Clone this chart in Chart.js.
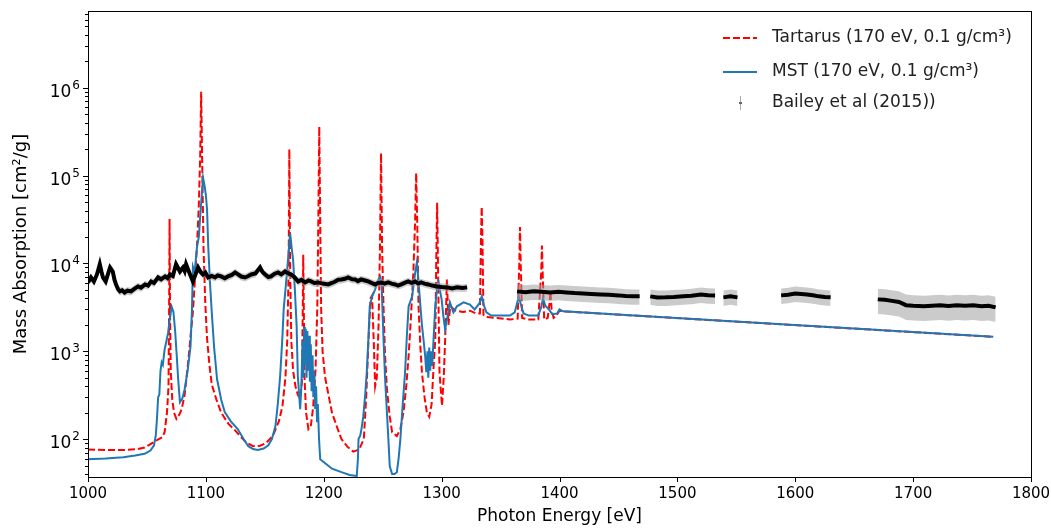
<!DOCTYPE html>
<html>
<head>
<meta charset="utf-8">
<script src="https://cdn.jsdelivr.net/npm/chart.js@4.4.1/dist/chart.umd.min.js"></script>
<style>
  html, body { margin: 0; padding: 0; background: #fff; }
</style>
</head>
<body>
<canvas id="absChart" width="1051" height="529"></canvas>
<script>
// Tartarus (170 eV, 0.1 g/cm3) - red dashed
const tartE = [1000, 1015, 1030, 1042, 1048, 1052, 1056, 1060, 1063, 1065, 1067, 1068.3, 1068.8, 1069.2, 1069.6, 1070.2, 1071.5, 1073, 1075, 1077.5,
  1079.5, 1082, 1085, 1087, 1089, 1091, 1092.5, 1094, 1095.2, 1096, 1096.8, 1098, 1099.5, 1101, 1103, 1105, 1109, 1113, 1119, 1125,
  1130, 1134, 1140, 1146, 1151, 1157, 1162, 1165, 1167.5, 1169, 1170.2, 1170.8, 1171.5, 1172.5, 1174, 1176, 1178, 1180, 1181.5, 1182.2,
  1182.6, 1183.1, 1183.7, 1185, 1187, 1189, 1191, 1193, 1194.5, 1195.5, 1196.2, 1197, 1197.8, 1199, 1201, 1204, 1207, 1211, 1215, 1220,
  1225, 1230, 1234, 1236, 1238, 1239.7, 1241, 1242.5, 1243.6, 1245, 1246.5, 1247.7, 1248.6, 1249.5, 1250.7, 1252, 1253.6, 1256, 1258, 1262,
  1265, 1267.6, 1270, 1272, 1274, 1276, 1277.5, 1278.4, 1279.3, 1280.4, 1282, 1283.3, 1285.5, 1287.5, 1289.5, 1291.5, 1293, 1294.6, 1295.5, 1296.2,
  1297, 1298.2, 1300.3, 1301.8, 1303, 1304.5, 1305.8, 1307.3, 1312, 1318, 1324, 1329, 1332.5, 1333.4, 1334, 1334.6, 1335.5, 1338, 1347, 1358,
  1364.5, 1365.9, 1366.5, 1367.1, 1368.3, 1374, 1382, 1384.5, 1385.1, 1385.7, 1387, 1390, 1391.5, 1392.3, 1393.3, 1395, 1397, 1400, 1403, 1585, 1768];
const tartV = [76, 75, 75, 77, 80, 86, 93, 100, 105, 120, 200, 400, 3000, 32000, 3000, 600, 280, 200, 170, 190,
  220, 320, 750, 1500, 2800, 7500, 16000, 45000, 170000, 900000, 160000, 15000, 3500, 1400, 700, 420, 280, 200, 150, 125,
  105, 92, 83, 84, 90, 110, 160, 240, 500, 1300, 8000, 200000, 8000, 1300, 600, 400, 320, 290, 450, 3000,
  12600, 3000, 500, 200, 130, 140, 230, 600, 3000, 40000, 360000, 30000, 3000, 1000, 520, 320, 200, 140, 100, 82,
  72, 76, 100, 300, 1370, 4000, 4300, 1200, 400, 500, 2000, 15000, 180000, 15000, 3250, 900, 370, 180, 120, 108,
  130, 200, 400, 885, 2500, 7800, 30000, 107000, 30000, 3250, 1100, 577, 300, 200, 180, 250, 600, 1370, 12000, 49000,
  8000, 577, 240, 500, 1370, 6580, 2000, 3250, 2900, 2800, 2900, 2700, 2700, 20000, 44000, 20000, 2600, 2450, 2400, 2300,
  2350, 10000, 26000, 10000, 2400, 2300, 2300, 8000, 16000, 8000, 2300, 2400, 3500, 4800, 3000, 2400, 2500, 2900, 2850, 2040, 1460];

// MST (170 eV, 0.1 g/cm3) - blue solid
const mstE = [1000, 1015, 1030, 1040, 1048, 1053, 1056, 1057.5, 1058.5, 1059.5, 1060.5, 1061.5, 1062.5, 1063.5, 1065, 1066.5, 1068, 1069.5, 1071, 1072.5,
  1074, 1075.5, 1076.5, 1078, 1080, 1082, 1084.5, 1087, 1088.2, 1089, 1090.5, 1092.5, 1094, 1095, 1096.5, 1097.6, 1099, 1100, 1101, 1102,
  1103.5, 1105, 1107, 1109.5, 1113, 1116, 1121, 1127, 1132, 1136, 1140, 1144, 1149, 1153, 1156, 1159, 1161, 1163, 1165, 1166,
  1167.5, 1169, 1170.5, 1171.5, 1172.8, 1174, 1175.5, 1177, 1178, 1180, 1181, 1182, 1182.7, 1183.4, 1184, 1184.7, 1185.4, 1186.1, 1186.8, 1187.5,
  1188.2, 1189, 1189.7, 1190.5, 1191.2, 1192, 1192.7, 1193.5, 1194.3, 1195, 1196, 1197, 1202, 1207, 1215, 1222, 1228, 1229, 1229.5, 1231,
  1232, 1233.5, 1235, 1236.5, 1238, 1239, 1241, 1243.6, 1246.4, 1248, 1249, 1250.7, 1252, 1253.6, 1255, 1256, 1258, 1260, 1262, 1263.5,
  1265, 1267, 1269, 1270.5, 1272, 1275, 1277.6, 1279, 1280.5, 1282, 1283.3, 1284.6, 1286, 1287, 1288, 1288.7, 1289.5, 1290.3, 1291, 1292,
  1293.3, 1294.6, 1296, 1297.4, 1298.5, 1300, 1301.5, 1303, 1305, 1307, 1310, 1313, 1318.6, 1324, 1328, 1332, 1334, 1336, 1338, 1342,
  1350, 1358, 1362, 1365.5, 1367.5, 1369.5, 1374, 1382, 1384.5, 1386, 1388, 1391, 1394, 1398, 1400, 1403, 1585, 1768];
const mstV = [59, 60, 62, 65, 68, 74, 85, 110, 170, 300, 320, 600, 750, 700, 1050, 1300, 1640, 2400, 3200, 2800,
  1640, 800, 480, 263, 290, 370, 600, 1140, 3000, 9200, 8000, 15600, 20000, 31600, 60000, 95000, 75000, 60000, 41000, 15600,
  6000, 2770, 1100, 480, 280, 203, 160, 130, 100, 83, 77, 75, 78, 85, 100, 140, 250, 520, 1500, 3000,
  5000, 8500, 15000, 22000, 15000, 11000, 5000, 1920, 520, 219, 400, 1300, 500, 1900, 700, 1800, 500, 1700, 600, 1500,
  450, 1200, 350, 900, 300, 600, 220, 400, 160, 250, 100, 59, 52, 46, 42, 39, 38, 60, 100, 110,
  130, 180, 300, 577, 1500, 3250, 4200, 5070, 6580, 7000, 6080, 1370, 500, 203, 90, 49, 40, 40, 42, 60,
  100, 250, 577, 1500, 3250, 4220, 7900, 10300, 6000, 3250, 2000, 1370, 900, 577, 1000, 500, 1100, 600, 1000, 680,
  1500, 3250, 5000, 6080, 5000, 3900, 2500, 1770, 2500, 3610, 2770, 3250, 3610, 3400, 3000, 3500, 4200, 3300, 2770, 2550,
  2550, 2550, 2770, 4200, 3300, 2700, 2550, 2550, 3200, 4000, 3300, 3000, 2630, 2700, 3000, 2850, 2040, 1460];

// Bailey et al (2015) - measured points, null marks a gap in the data
const baileyE = [1000, 1002.5, 1005, 1007.6, 1010, 1011.5, 1012.7, 1015, 1017, 1018.7, 1021, 1022.5, 1023.8, 1025.5, 1027, 1029, 1031, 1033.5, 1036.5, 1039,
  1042.4, 1045, 1048.4, 1051, 1053.5, 1056, 1059.4, 1062, 1065.4, 1067.5, 1069.6, 1072, 1074.7, 1078, 1080.6, 1082, 1083.2, 1086.6, 1089, 1091,
  1093.4, 1095.5, 1097.6, 1099.5, 1101.9, 1105, 1107.8, 1110, 1112.9, 1116, 1118.8, 1122, 1124.8, 1127.3, 1130, 1133.3, 1136, 1138.4, 1142, 1146,
  1148, 1150.3, 1153, 1155.3, 1158, 1161.3, 1164, 1167.2, 1170, 1172.3, 1175, 1178.3, 1181, 1184.2, 1187, 1189.3, 1192, 1195.2, 1199, 1203.7,
  1207, 1209.7, 1212, 1214.8, 1218, 1220.7, 1224, 1226.7, 1229, 1231.7, 1235, 1237.7, 1240.5, 1243.6, 1246, 1248.7, 1251.5, 1254.7, 1257.5, 1260.6,
  1263, 1265.7, 1268.5, 1271.6, 1274.5, 1277.6, 1280, 1282.7, 1285.5, 1288.6, 1292, 1296.3, 1300, 1304.8, 1309, 1313.2, 1317.5, 1321.7, 1322.5,
  1364, 1371, 1378, 1385, 1392, 1399, 1406, 1413, 1420, 1427, 1435, 1442, 1450, 1456, 1462, 1468, 1472,
  1477, 1483, 1490, 1497, 1505, 1512, 1520, 1526, 1532, 1535,
  1539, 1545, 1551, 1570,
  1588, 1594, 1600, 1605, 1610, 1615, 1620, 1625, 1630, 1650,
  1670, 1676, 1682, 1688, 1694, 1700, 1709, 1716, 1723, 1730, 1737, 1744, 1751, 1758, 1764, 1770];
const baileyV = [6080, 6930, 6240, 7500, 9800, 8000, 6930, 6240, 7600, 9000, 8100, 6500, 5770, 5100, 4810, 4950, 4680, 4900, 4810, 5100,
  5480, 5300, 5770, 5600, 6240, 6000, 6930, 6600, 7120, 6800, 7500, 7200, 9800, 8100, 9000, 8200, 9800, 7500, 6240, 7400,
  9000, 8000, 7500, 7900, 6930, 7200, 6930, 7300, 7120, 6800, 7120, 7400, 7900, 7500, 7100, 6930, 7200, 7500, 7700, 9000,
  8000, 7500, 7000, 7120, 7600, 7900, 7500, 8100, 7700, 7500, 7000, 6240, 6500, 6080, 6400, 6240, 6000, 6080, 5900, 5770,
  6000, 6240, 6500, 6580, 6700, 6930, 6600, 6580, 6300, 6580, 6400, 6240, 6000, 5770, 6000, 6080, 5900, 6080, 5900, 5770,
  5600, 5770, 6000, 6240, 6000, 6240, 5900, 6080, 5900, 5770, 5600, 5480, 5400, 5340, 5200, 5340, 5250, 5340, null,
  4810, 4700, 4810, 4750, 4680, 4750, 4680, 4600, 4550, 4500, 4440, 4400, 4330, 4250, 4220, 4220, null,
  4220, 4100, 4110, 4150, 4220, 4300, 4440, 4350, 4330, null,
  4110, 4220, 4110, null,
  4330, 4400, 4550, 4500, 4440, 4350, 4220, 4150, 4110, null,
  3900, 3850, 3750, 3650, 3350, 3300, 3250, 3300, 3340, 3280, 3340, 3300, 3340, 3250, 3300, 3160];
// relative error of each continuous block of Bailey data
const baileyErr = [0.1, 0.2, 0.2, 0.2, 0.2, 0.32];

const xTicks = [1000, 1100, 1200, 1300, 1400, 1500, 1600, 1700, 1800];
const yTicks = [1e2, 1e3, 1e4, 1e5, 1e6];

function pts(xs, ys) {
  return xs.map((e, i) => ({ x: e, y: ys[i] }));
}

function baileyBand(sign) {
  let seg = 0;
  return baileyE.map((e, i) => {
    const v = baileyV[i];
    if (v === null) { seg++; return { x: e, y: null }; }
    const err = baileyErr[seg];
    return { x: e, y: sign > 0 ? v * (1 + err) : v * (1 - err) };
  });
}

Chart.defaults.font.family = '"DejaVu Sans", sans-serif';
Chart.defaults.font.size = 15;
Chart.defaults.color = '#000';

// matplotlib-style box, tick marks and 10^n tick labels
const framePlugin = {
  id: 'frame',
  afterDraw(chart) {
    const { ctx, chartArea: a, scales: { x, y } } = chart;
    ctx.save();
    ctx.strokeStyle = '#000';
    ctx.lineWidth = 1;
    ctx.strokeRect(a.left + 0.5, a.top + 0.5, a.right - a.left, a.bottom - a.top);
    ctx.beginPath();
    xTicks.forEach(v => {
      const px = Math.round(x.getPixelForValue(v)) + 0.5;
      ctx.moveTo(px, a.bottom);
      ctx.lineTo(px, a.bottom + 5);
    });
    yTicks.forEach(v => {
      const py = Math.round(y.getPixelForValue(v)) + 0.5;
      ctx.moveTo(a.left - 5, py);
      ctx.lineTo(a.left, py);
    });
    for (let d = 10; d <= 1e6; d *= 10) {
      for (let m = 2; m <= 9; m++) {
        const v = m * d;
        if (v < y.min || v > y.max) continue;
        const py = Math.round(y.getPixelForValue(v)) + 0.5;
        ctx.moveTo(a.left - 3, py);
        ctx.lineTo(a.left, py);
      }
    }
    ctx.stroke();

    ctx.fillStyle = '#000';
    ctx.textBaseline = 'alphabetic';
    ctx.textAlign = 'left';
    yTicks.forEach(v => {
      const py = y.getPixelForValue(v);
      const exp = String(Math.round(Math.log10(v)));
      ctx.font = '12px "DejaVu Sans"';
      const we = ctx.measureText(exp).width;
      ctx.font = '17px "DejaVu Sans"';
      const wb = ctx.measureText('10').width;
      const right = a.left - 8;
      ctx.fillText('10', right - we - 1 - wb, py + 9);
      ctx.font = '12px "DejaVu Sans"';
      ctx.fillText(exp, right - we, py + 1);
    });
    ctx.restore();
  }
};

const legendPlugin = {
  id: 'mplLegend',
  afterDraw(chart) {
    const ctx = chart.ctx;
    const ds = chart.data.datasets;
    const rows = [ds[4], ds[3], ds[0]];
    const rowY = [38, 72, 103];
    ctx.save();
    ctx.font = '17px "DejaVu Sans"';
    ctx.textBaseline = 'middle';
    rows.forEach((d, i) => {
      const yy = rowY[i];
      if (i < 2) {
        ctx.strokeStyle = d.borderColor;
        ctx.lineWidth = 2;
        ctx.setLineDash(d.borderDash || []);
        ctx.beginPath();
        ctx.moveTo(723, yy);
        ctx.lineTo(757, yy);
        ctx.stroke();
        ctx.setLineDash([]);
      } else {
        ctx.strokeStyle = '#aaa';
        ctx.lineWidth = 1;
        ctx.beginPath();
        ctx.moveTo(740.5, yy - 7);
        ctx.lineTo(740.5, yy + 7);
        ctx.stroke();
        ctx.fillStyle = '#666';
        ctx.fillRect(739, yy - 1, 3, 2);
      }
      ctx.fillStyle = '#222';
      ctx.fillText(d.label, 772, yy);
    });
    ctx.restore();
  }
};

new Chart(document.getElementById('absChart'), {
  type: 'line',
  data: {
    datasets: [
      {
        label: 'Bailey et al (2015))',
        data: pts(baileyE, baileyV),
        borderColor: '#000',
        borderWidth: 4,
        pointRadius: 0,
        spanGaps: false,
        fill: false,
        order: 1
      },
      {
        label: 'bailey-upper',
        data: baileyBand(1),
        borderWidth: 0,
        pointRadius: 0,
        spanGaps: false,
        backgroundColor: 'rgba(160,160,160,0.55)',
        fill: '+1',
        order: 2
      },
      {
        label: 'bailey-lower',
        data: baileyBand(-1),
        borderWidth: 0,
        pointRadius: 0,
        spanGaps: false,
        fill: false,
        order: 2
      },
      {
        label: 'MST (170 eV, 0.1 g/cm\u00b3)',
        data: pts(mstE, mstV),
        borderColor: '#1f77b4',
        borderWidth: 2,
        pointRadius: 0,
        fill: false,
        order: 3
      },
      {
        label: 'Tartarus (170 eV, 0.1 g/cm\u00b3)',
        data: pts(tartE, tartV),
        borderColor: '#ff0000',
        borderWidth: 2,
        borderDash: [7, 3],
        pointRadius: 0,
        fill: false,
        order: 4
      }
    ]
  },
  options: {
    responsive: false,
    animation: false,
    parsing: false,
    normalized: true,
    layout: { padding: { top: 11, right: 20, bottom: 0, left: 0 } },
    elements: { line: { tension: 0 } },
    plugins: {
      legend: { display: false },
      tooltip: { enabled: false }
    },
    scales: {
      x: {
        type: 'linear',
        min: 1000,
        max: 1800,
        grid: { display: false, drawTicks: false },
        border: { display: false },
        afterBuildTicks: scale => { scale.ticks = xTicks.map(v => ({ value: v })); },
        afterFit: scale => {
          scale.height = 52;
          scale.paddingLeft = 0;
          scale.paddingRight = 0;
        },
        ticks: { padding: 8, maxRotation: 0, autoSkip: false, callback: v => String(v) },
        title: { display: true, text: 'Photon Energy [eV]', font: { size: 17 }, padding: { top: 0, bottom: 2 } }
      },
      y: {
        type: 'logarithmic',
        min: 37,
        max: 7.5e6,
        grid: { display: false, drawTicks: false },
        border: { display: false },
        afterBuildTicks: scale => { scale.ticks = yTicks.map(v => ({ value: v })); },
        afterFit: scale => {
          scale.width = 88;
          scale.paddingTop = 0;
          scale.paddingBottom = 0;
        },
        ticks: { padding: 8, autoSkip: false, callback: () => '' },
        title: { display: true, text: 'Mass Absorption [cm\u00b2/g]', font: { size: 18 }, padding: { top: 11, bottom: 0 } }
      }
    }
  },
  plugins: [framePlugin, legendPlugin]
});
</script>
</body>
</html>
